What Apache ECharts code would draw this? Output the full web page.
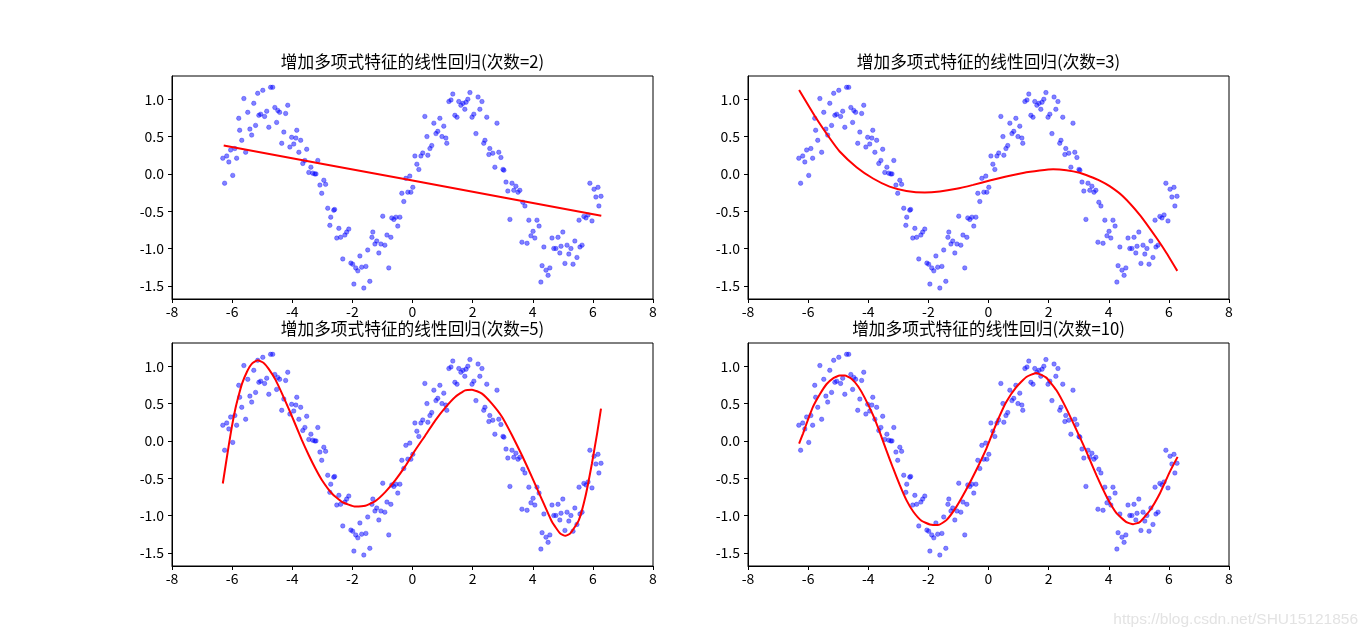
<!DOCTYPE html>
<html>
<head>
<meta charset="utf-8">
<script src="https://cdn.jsdelivr.net/npm/echarts@6/dist/echarts.min.js"></script>
<style>
html,body{margin:0;padding:0;background:#fff;}
#chart{width:1366px;height:636px;}
</style>
</head>
<body>
<div id="chart"></div>
<script>
// ---- data ----
const titles = ['增加多项式特征的线性回归(次数=2)','增加多项式特征的线性回归(次数=3)','增加多项式特征的线性回归(次数=5)','增加多项式特征的线性回归(次数=10)'];
const xTickValues = [-8,-6,-4,-2,0,2,4,6,8];
const yTickValues = [-1.5,-1.0,-0.5,0.0,0.5,1.0];

const sampleX = [-6.31,-6.25,-6.18,-6.11,-6.05,-5.98,-5.91,-5.85,-5.78,-5.75,-5.68,-5.61,-5.55,-5.48,-5.41,-5.35,-5.28,-5.22,-5.15,-5.11,-5.05,-4.98,-4.92,-4.85,-4.78,-4.72,-4.65,-4.58,-4.52,-4.48,-4.42,-4.35,-4.28,-4.22,-4.15,-4.08,-4.02,-3.95,-3.88,-3.85,-3.78,-3.72,-3.65,-3.58,-3.52,-3.45,-3.38,-3.32,-3.25,-3.21,-3.15,-3.08,-3.02,-2.95,-2.89,-2.82,-2.75,-2.72,
-2.62,-2.59,-2.52,-2.45,-2.39,-2.32,-2.25,-2.19,-2.12,-2.05,-1.99,-1.95,-1.89,-1.82,-1.75,-1.69,-1.62,-1.55,-1.49,-1.42,-1.35,-1.32,-1.25,-1.19,-1.12,-1.05,-0.99,-0.92,-0.85,-0.79,-0.72,-0.69,-0.62,-0.55,-0.49,-0.42,-0.355,-0.29,-0.22,-0.155,-0.09,-0.055,0.01,0.08,0.145,0.21,0.28,0.34,0.41,0.48,0.51,0.58,0.64,0.71,0.78,0.84,0.91,0.98,1.04,1.11,1.14,1.21,1.28,1.34,1.41,1.48,1.54,1.61,1.68,1.74,1.78,1.84,1.91,1.98,2.04,2.11,2.18,2.24,2.31,2.37,2.41,2.47,2.54,2.57,
2.67,2.74,2.81,2.87,2.94,3.01,3.04,3.11,3.17,3.24,3.31,3.37,3.44,3.51,3.57,3.64,3.67,3.74,3.81,3.87,3.94,4.01,4.07,4.14,4.21,4.27,4.31,4.37,4.44,4.51,4.57,4.64,4.70,4.77,4.84,4.90,4.94,5.00,5.07,5.14,5.20,5.27,5.34,5.40,5.47,5.54,5.57,5.64,5.70,5.77,5.84,5.90,5.97,6.04,6.10,6.17,6.20,6.27];
const sampleY = [0.21,-0.125,0.24,0.16,0.32,-0.02,0.34,0.21,0.745,0.585,0.45,1.01,0.29,0.825,0.60,0.52,0.946,0.65,1.08,0.785,0.80,1.12,0.77,0.84,0.625,1.16,1.16,0.89,0.69,0.85,0.825,0.41,0.56,0.81,0.92,0.36,0.49,0.40,0.48,0.585,0.29,0.45,0.14,0.18,0.33,0.02,0.09,0.01,0.0,0.0,0.18,-0.15,-0.26,-0.085,-0.14,-0.46,-0.69,-0.58,
-0.486,-0.477,-0.86,-0.73,-0.85,-1.14,-0.82,-0.78,-0.74,-1.196,-1.21,-1.477,-1.26,-1.30,-1.10,-1.25,-1.53,-1.24,-1.02,-1.44,-0.85,-0.78,-0.94,-0.90,-1.06,-0.94,-0.567,-0.955,-0.82,-1.26,-0.85,-0.59,-0.61,-0.58,-0.70,-0.58,-0.26,-0.37,-0.06,-0.245,-0.03,-0.245,-0.18,0.24,0.13,0.06,0.24,0.28,0.77,0.50,0.25,0.34,0.38,0.68,0.54,0.57,0.745,0.50,0.64,0.48,0.41,0.97,0.99,1.07,0.785,0.76,0.97,0.92,0.946,0.866,0.96,1.0,1.09,0.76,0.80,0.54,1.03,0.866,0.97,0.41,0.45,0.76,0.26,0.34,
0.277,0.09,0.68,0.29,0.22,0.06,0.05,-0.11,-0.23,-0.61,-0.125,-0.22,-0.165,-0.245,-0.22,-0.915,-0.38,-0.43,-0.93,-0.62,-0.83,-0.77,-0.86,-0.62,-0.70,-1.45,-1.23,-0.98,-1.29,-1.36,-1.26,-0.86,-1.0,-1.0,-0.85,-1.06,-0.97,-0.78,-1.20,-0.955,-1.075,-1.0,-1.21,-0.90,-1.12,-0.62,-0.98,-0.955,-0.57,-0.59,-0.55,-0.125,-0.63,-0.205,-0.31,-0.18,-0.43,-0.30];

// fitted curves
const fit2X = [-6.28,0.0,6.28];
const fit2Y = [0.38,-0.09,-0.56];
const fit3X = [-6.30,-5.73,-5.28,-4.95,-4.39,-3.84,-3.29,-2.73,-2.12,-1.62,-1.07,-0.51,0.04,0.59,1.15,1.70,2.15,2.59,3.03,3.37,3.70,4.03,4.47,5.03,5.59,5.92,6.28];
const fit3Y = [1.125,0.745,0.477,0.30,0.089,-0.062,-0.17,-0.228,-0.25,-0.236,-0.20,-0.147,-0.089,-0.036,0.013,0.045,0.0625,0.05,0.015,-0.035,-0.09,-0.165,-0.30,-0.55,-0.86,-1.06,-1.30];
const fit5X = [-6.31,-6.12,-6.01,-5.89,-5.78,-5.67,-5.51,-5.34,-5.15,-4.95,-4.79,-4.56,-4.34,-4.12,-3.90,-3.68,-3.45,-3.23,-3.01,-2.68,-2.35,-1.90,-1.57,-1.24,-0.90,-0.57,-0.24,0.09,0.43,0.76,1.09,1.42,1.75,1.98,2.31,2.64,2.98,3.31,3.64,3.97,4.31,4.64,4.91,5.08,5.25,5.53,5.75,5.97,6.14,6.27];
const fit5Y = [-0.571,-0.08,0.187,0.433,0.611,0.767,0.924,1.035,1.08,1.044,0.968,0.821,0.634,0.433,0.223,0.009,-0.192,-0.37,-0.527,-0.705,-0.817,-0.88,-0.87,-0.808,-0.683,-0.526,-0.339,-0.125,0.076,0.276,0.446,0.589,0.678,0.687,0.634,0.50,0.321,0.076,-0.192,-0.482,-0.79,-1.085,-1.24,-1.272,-1.24,-1.066,-0.75,-0.30,0.098,0.433];
const fit10X = [-6.30,-6.17,-6.06,-5.84,-5.61,-5.39,-5.17,-4.95,-4.78,-4.56,-4.34,-4.12,-3.84,-3.62,-3.40,-3.17,-2.95,-2.73,-2.50,-2.23,-1.95,-1.68,-1.40,-1.07,-0.74,-0.41,-0.07,0.15,0.37,0.59,0.93,1.26,1.59,1.92,2.26,2.59,2.92,3.26,3.59,3.92,4.25,4.59,4.81,5.03,5.36,5.70,6.03,6.29];
const fit10Y = [-0.036,0.098,0.223,0.455,0.625,0.759,0.839,0.875,0.875,0.834,0.732,0.58,0.344,0.12,-0.125,-0.37,-0.593,-0.794,-0.95,-1.07,-1.12,-1.129,-1.062,-0.884,-0.652,-0.393,-0.103,0.12,0.335,0.522,0.723,0.857,0.91,0.848,0.678,0.433,0.152,-0.147,-0.46,-0.741,-0.964,-1.089,-1.116,-1.089,-0.937,-0.705,-0.415,-0.214];

const fitsX = [fit2X, fit3X, fit5X, fit10X];
const fitsY = [fit2Y, fit3Y, fit5Y, fit10Y];

// ---- layout ----
const FONT = '"Noto Sans CJK SC", "DejaVu Sans", sans-serif';
const gridPos = [
  {left:172, top:76},
  {left:748, top:76},
  {left:172, top:343},
  {left:748, top:343}
];
const GW = 481, GH = 223;
const titleTop = [53, 53, 320, 320];

const scatterData = sampleX.map((x,i)=>[x, sampleY[i]]);

const grids = [], xAxes = [], yAxes = [], series = [], titleArr = [];
gridPos.forEach((g,i)=>{
  grids.push({left:g.left, top:g.top, width:GW, height:GH, show:true, borderColor:'#000', borderWidth:1, backgroundColor:'#fff', containLabel:false});
  xAxes.push({
    type:'value', gridIndex:i, min:-8, max:8, interval:2,
    axisLine:{show:true, onZero:false, lineStyle:{color:'#000', width:1}},
    axisTick:{show:true, inside:false, length:4, lineStyle:{color:'#000'}},
    splitLine:{show:false},
    axisLabel:{color:'#000', fontSize:14, fontFamily:FONT, margin:6, formatter:(v)=>String(v)}
  });
  yAxes.push({
    type:'value', gridIndex:i, min:-1.677, max:1.312,
    axisLine:{show:true, onZero:false, lineStyle:{color:'#000', width:1}},
    axisTick:{show:true, inside:false, length:4, lineStyle:{color:'#000'}, customValues:yTickValues},
    splitLine:{show:false},
    axisLabel:{color:'#000', fontSize:14, fontFamily:FONT, margin:8, customValues:yTickValues, formatter:(v)=>Number(v).toFixed(1)}
  });
  series.push({
    type:'scatter', xAxisIndex:i, yAxisIndex:i, data:scatterData,
    symbol:'circle', symbolSize:4.5,
    itemStyle:{color:'rgba(0,0,255,0.62)', borderColor:'rgba(0,0,255,0.55)', borderWidth:0.7},
    z:2, silent:true
  });
  series.push({
    type:'line', xAxisIndex:i, yAxisIndex:i,
    data:fitsX[i].map((x,k)=>[x, fitsY[i][k]]),
    smooth:0.15, symbol:'none',
    lineStyle:{color:'#ff0000', width:2},
    z:3, silent:true
  });
  titleArr.push({
    text:titles[i], left:g.left + GW/2, top:titleTop[i], textAlign:'center', padding:0,
    textStyle:{color:'#000', fontSize:16.7, fontWeight:'normal', fontFamily:FONT}
  });
});

const chart = echarts.init(document.getElementById('chart'), null, {renderer:'canvas'});
chart.setOption({
  backgroundColor:'#fff',
  animation:false,
  title:titleArr,
  grid:grids,
  xAxis:xAxes,
  yAxis:yAxes,
  series:series,
  graphic:[{
    type:'text', right:8, bottom:8,
    style:{text:'https://blog.csdn.net/SHU15121856', fill:'#e3e3e3', font:'15.5px "Liberation Sans", Arial, sans-serif'}
  }]
});
</script>
</body>
</html>
